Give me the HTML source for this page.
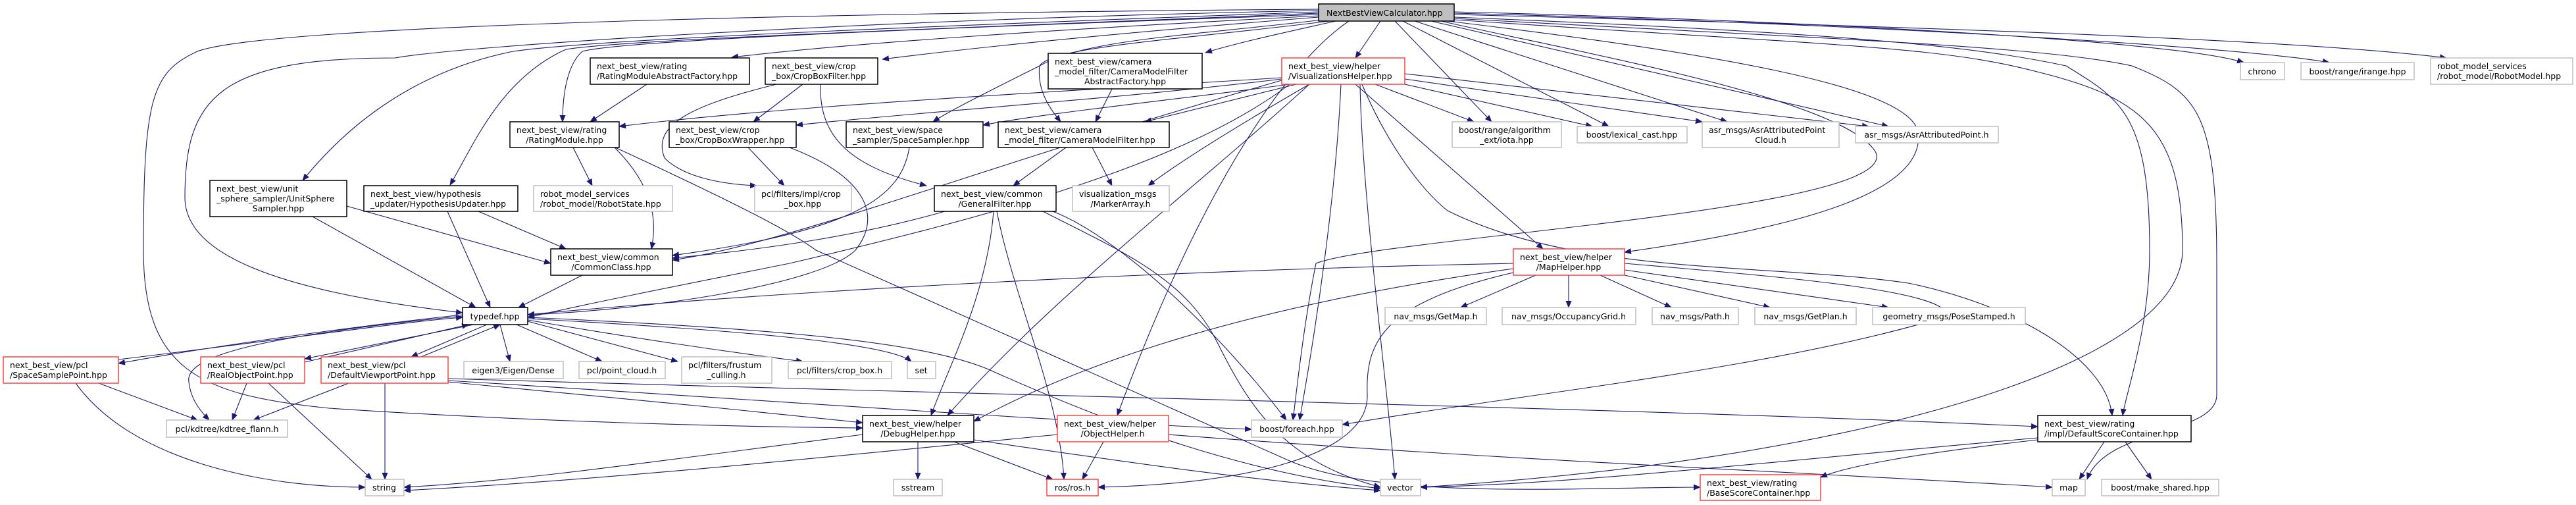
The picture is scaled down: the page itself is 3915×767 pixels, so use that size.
<!DOCTYPE html>
<html><head><meta charset="utf-8"><style>
html,body{margin:0;padding:0;background:#fff;}
svg{display:block;}
text{font-family:"DejaVu Sans","Liberation Sans",sans-serif;font-size:12.5px;fill:#000;}
.e{fill:none;stroke:#191970;stroke-width:1.1;marker-end:url(#a);}
.b{fill:#fff;stroke:#000;stroke-width:1.5;}
.g{fill:#fff;stroke:#bfbfbf;stroke-width:1.5;}
.r{fill:#fff;stroke:#ff4040;stroke-width:1.5;}
</style></head><body>
<svg width="3915" height="767" viewBox="0 0 3915 767" xmlns="http://www.w3.org/2000/svg">
<defs><marker id="a" markerUnits="userSpaceOnUse" markerWidth="11" markerHeight="9" refX="10" refY="4.5" orient="auto"><path d="M0,0 L11,4.5 L0,9 z" fill="#191970"/></marker></defs>
<g>
<!-- NBVC edges -->
<path class="e" d="M2004,14 C1200,20 400,40 300,78 C230,110 218,150 218,380 C218,560 300,600 500,620 C800,640 1100,648 1311,650"/>
<path class="e" d="M2004,16 C1300,30 700,70 600,88 C330,88 281,150 281,300 C281,380 400,440 703,475"/>
<path class="e" d="M2004,18 C1400,40 900,60 780,78 C620,110 520,200 460,274"/>
<path class="e" d="M2004,20 C1400,45 950,60 860,75 C760,120 720,220 684,281"/>
<path class="e" d="M2004,22 C1500,40 950,60 885,78 C860,100 855,150 855,185"/>
<path class="e" d="M2004,24 C1600,45 1300,65 1112,87"/>
<path class="e" d="M2004,26 C1700,50 1500,70 1341,90"/>
<path class="e" d="M2030,32 C1950,50 1880,65 1832,80"/>
<path class="e" d="M2010,30 C1800,55 1650,60 1580,100 C1500,140 1440,170 1418,185"/>
<path class="e" d="M2020,32 C1800,60 1600,70 1580,100 C1575,140 1600,170 1612,185"/>
<path class="e" d="M2098,32 L2060,88"/>
<path class="e" d="M2120,32 L2267,185"/>
<path class="e" d="M2132,32 L2445,192"/>
<path class="e" d="M2150,32 L2625,185"/>
<path class="e" d="M2175,32 L2870,192"/>
<path class="e" d="M2210,18 C2700,30 3300,60 3410,95"/>
<path class="e" d="M2210,20 C2800,35 3400,70 3540,95"/>
<path class="e" d="M2210,22 C2900,40 3500,60 3718,88"/>
<path class="e" d="M2210,26 C2800,50 3000,70 3140,100 C3220,150 3267,170 3267,380 C3267,500 3230,600 3226,631"/>
<path class="e" d="M2210,28 C2800,60 3100,70 3240,100 C3340,140 3369,170 3369,400 L3369,600 C3369,660 3200,650 3172,728"/>
<path class="e" d="M2210,30 C2800,70 2950,70 3100,110 C3260,150 3317,200 3317,380 C3317,560 2800,700 2159,740"/>
<path class="e" d="M2200,32 C2600,80 2900,130 2915,200 C2930,300 2700,350 2469,383"/>
<path class="e" d="M2190,32 C2400,80 2800,150 2850,230 C2900,320 2100,360 2000,400 C1980,500 1970,600 1965,638"/>
<path class="e" d="M2050,32 C1950,100 1820,300 1698,631"/>
<!-- internal -->
<path class="e" d="M983,128 L897,185"/>
<path class="e" d="M1220,128 L1145,185"/>
<path class="e" d="M1180,128 C1050,160 990,190 1010,240 C1040,270 1100,280 1150,282"/>
<path class="e" d="M1247,128 C1245,200 1280,250 1408,282"/>
<path class="e" d="M1690,135 L1665,185"/>
<path class="e" d="M1620,224 L1540,282"/>
<path class="e" d="M1660,224 L1690,282"/>
<path class="e" d="M1137,224 L1192,282"/>
<path class="e" d="M1200,224 C1320,270 1340,330 1300,380 C1250,430 1000,470 802,478"/>
<path class="e" d="M1382,224 C1370,300 1300,350 1022,388"/>
<path class="e" d="M934,224 C990,280 1000,330 990,378"/>
<path class="e" d="M871,224 L900,282"/>
<path class="e" d="M935,224 C1100,300 1200,350 1240,380 L1960,700 C2100,760 2400,740 2584,740"/>
<path class="e" d="M527,313 L837,400"/>
<path class="e" d="M475,329 L723,467"/>
<path class="e" d="M727,321 L860,378"/>
<path class="e" d="M680,321 L745,467"/>
<path class="e" d="M885,418 L788,467"/>
<path class="e" d="M1436,321 C1300,360 1150,380 1022,392"/>
<path class="e" d="M1510,321 C1500,450 1440,560 1415,631"/>
<path class="e" d="M1515,321 C1540,450 1610,600 1617,728"/>
<path class="e" d="M1585,321 C1700,380 1800,420 1850,520 C1900,620 1950,700 2098,740"/>
<path class="e" d="M1600,321 C1700,360 1850,500 1955,638"/>
<path class="e" d="M1948,118 C1600,140 1200,160 941,192"/>
<path class="e" d="M1948,120 C1700,150 1400,170 1210,190"/>
<path class="e" d="M1960,128 C1800,150 1600,170 1494,190"/>
<path class="e" d="M1970,128 L1740,185"/>
<path class="e" d="M1990,128 C1900,180 1800,240 1745,282"/>
<path class="e" d="M2090,128 L2240,185"/>
<path class="e" d="M2135,128 L2420,192"/>
<path class="e" d="M2135,120 L2587,185"/>
<path class="e" d="M2135,112 L2840,192"/>
<path class="e" d="M2060,128 L2345,378"/>
<path class="e" d="M1960,128 C1800,250 1500,330 1200,400 C1000,440 900,460 802,482"/>
<path class="e" d="M1990,128 C1800,300 1600,450 1440,631"/>
<path class="e" d="M2067,128 C2070,300 2110,600 2120,728"/>
<path class="e" d="M2070,128 C2100,200 2150,280 2200,320 C2400,420 2700,400 2900,430 C3050,460 3200,540 3210,631"/>
<path class="e" d="M2038,128 C2030,300 2000,500 1975,638"/>
<path class="e" d="M1948,122 C1500,250 1200,370 1022,395"/>
<path class="e" d="M2300,400 C1800,410 1200,440 802,478"/>
<path class="e" d="M2334,418 L2220,467"/>
<path class="e" d="M2384,418 L2384,467"/>
<path class="e" d="M2432,418 L2540,467"/>
<path class="e" d="M2469,418 L2690,467"/>
<path class="e" d="M2469,410 L2870,467"/>
<path class="e" d="M2300,408 C2000,450 1700,520 1480,640"/>
<path class="e" d="M2469,400 C2700,420 2960,440 2960,480 C2700,560 2300,600 2040,645"/>
<path class="e" d="M2300,414 C2100,460 2075,520 2078,600 C2080,690 1900,735 1669,740"/>
<path class="e" d="M703,478 C500,500 300,530 180,552"/>
<path class="e" d="M180,546 C400,520 600,490 703,482"/>
<path class="e" d="M720,493 L463,545"/>
<path class="e" d="M463,550 L712,493"/>
<path class="e" d="M740,493 L625,542"/>
<path class="e" d="M640,542 L760,493"/>
<path class="e" d="M760,493 L775,549"/>
<path class="e" d="M785,493 L915,549"/>
<path class="e" d="M802,488 L1030,549"/>
<path class="e" d="M802,486 C1000,520 1150,540 1220,549"/>
<path class="e" d="M802,484 C1100,500 1350,520 1385,549"/>
<path class="e" d="M802,482 C1200,500 1400,520 1500,560 C1700,650 1900,720 2098,742"/>
<path class="e" d="M703,480 C400,510 280,540 287,580 C290,610 310,630 318,638"/>
<path class="e" d="M150,582 L300,638"/>
<path class="e" d="M115,582 C200,700 400,740 555,740"/>
<path class="e" d="M375,582 L353,638"/>
<path class="e" d="M408,582 L565,728"/>
<path class="e" d="M530,582 L385,638"/>
<path class="e" d="M585,582 L585,728"/>
<path class="e" d="M681,575 C1500,600 2500,620 3097,648"/>
<path class="e" d="M681,578 C1200,610 1600,640 1902,652"/>
<path class="e" d="M681,580 C900,600 1100,620 1311,642"/>
<path class="e" d="M1395,671 L1395,728"/>
<path class="e" d="M1450,671 L1600,728"/>
<path class="e" d="M1311,660 C1000,700 800,730 614,740"/>
<path class="e" d="M1480,668 C1700,700 1900,730 2098,745"/>
<path class="e" d="M1607,660 C1200,700 900,730 614,745"/>
<path class="e" d="M1677,671 L1645,728"/>
<path class="e" d="M1776,660 C2300,700 2800,720 3119,740"/>
<path class="e" d="M3097,668 C2900,690 2800,710 2767,725"/>
<path class="e" d="M3198,671 L3160,728"/>
<path class="e" d="M3230,671 L3270,728"/>
<path class="e" d="M3097,665 C2700,700 2400,735 2159,740"/>
</g>
<g>
<rect x="2004" y="6" width="206" height="26" fill="#bfbfbf" stroke="#000" stroke-width="1.5"/><text x="2016" y="24">NextBestViewCalculator.hpp</text>
<rect class="b" x="897" y="88" width="242" height="40"/><text x="907" y="105">next_best_view/rating</text><text x="907" y="120">/RatingModuleAbstractFactory.hpp</text>
<rect class="b" x="1163" y="88" width="171" height="40"/><text x="1173" y="105">next_best_view/crop</text><text x="1173" y="120">_box/CropBoxFilter.hpp</text>
<rect class="b" x="1593" y="81" width="234" height="54"/><text x="1603" y="98">next_best_view/camera</text><text x="1603" y="113">_model_filter/CameraModelFilter</text><text x="1710" y="128" text-anchor="middle">AbstractFactory.hpp</text>
<rect class="r" x="1948" y="88" width="187" height="40"/><text x="1958" y="105">next_best_view/helper</text><text x="1958" y="120">/VisualizationsHelper.hpp</text>
<rect class="g" x="3405" y="95" width="67" height="26"/><text x="3438" y="113" text-anchor="middle">chrono</text>
<rect class="g" x="3497" y="95" width="172" height="26"/><text x="3583" y="113" text-anchor="middle">boost/range/irange.hpp</text>
<rect class="g" x="3694" y="88" width="216" height="40"/><text x="3704" y="105">robot_model_services</text><text x="3704" y="120">/robot_model/RobotModel.hpp</text>
<rect class="b" x="775" y="185" width="166" height="39"/><text x="785" y="202">next_best_view/rating</text><text x="858" y="217" text-anchor="middle">/RatingModule.hpp</text>
<rect class="b" x="1017" y="185" width="193" height="39"/><text x="1027" y="202">next_best_view/crop</text><text x="1027" y="217">_box/CropBoxWrapper.hpp</text>
<rect class="b" x="1286" y="185" width="208" height="39"/><text x="1296" y="202">next_best_view/space</text><text x="1296" y="217">_sampler/SpaceSampler.hpp</text>
<rect class="b" x="1517" y="185" width="260" height="39"/><text x="1527" y="202">next_best_view/camera</text><text x="1527" y="217">_model_filter/CameraModelFilter.hpp</text>
<rect class="g" x="2207" y="185" width="166" height="39"/><text x="2217" y="202">boost/range/algorithm</text><text x="2290" y="217" text-anchor="middle">_ext/iota.hpp</text>
<rect class="g" x="2397" y="192" width="167" height="25"/><text x="2480" y="209" text-anchor="middle">boost/lexical_cast.hpp</text>
<rect class="g" x="2587" y="185" width="208" height="39"/><text x="2597" y="202">asr_msgs/AsrAttributedPoint</text><text x="2691" y="217" text-anchor="middle">Cloud.h</text>
<rect class="g" x="2820" y="192" width="217" height="25"/><text x="2928" y="209" text-anchor="middle">asr_msgs/AsrAttributedPoint.h</text>
<rect class="b" x="319" y="274" width="208" height="55"/><text x="329" y="291">next_best_view/unit</text><text x="329" y="306">_sphere_sampler/UnitSphere</text><text x="423" y="321" text-anchor="middle">Sampler.hpp</text>
<rect class="b" x="553" y="282" width="234" height="39"/><text x="563" y="299">next_best_view/hypothesis</text><text x="563" y="314">_updater/HypothesisUpdater.hpp</text>
<rect class="g" x="811" y="282" width="211" height="39"/><text x="821" y="299">robot_model_services</text><text x="821" y="314">/robot_model/RobotState.hpp</text>
<rect class="g" x="1147" y="282" width="147" height="39"/><text x="1157" y="299">pcl/filters/impl/crop</text><text x="1220" y="314" text-anchor="middle">_box.hpp</text>
<rect class="b" x="1420" y="282" width="185" height="39"/><text x="1430" y="299">next_best_view/common</text><text x="1512" y="314" text-anchor="middle">/GeneralFilter.hpp</text>
<rect class="g" x="1630" y="282" width="147" height="39"/><text x="1640" y="299">visualization_msgs</text><text x="1703" y="314" text-anchor="middle">/MarkerArray.h</text>
<rect class="b" x="837" y="378" width="185" height="40"/><text x="847" y="395">next_best_view/common</text><text x="929" y="410" text-anchor="middle">/CommonClass.hpp</text>
<rect class="r" x="2300" y="378" width="169" height="40"/><text x="2310" y="395">next_best_view/helper</text><text x="2384" y="410" text-anchor="middle">/MapHelper.hpp</text>
<rect class="b" x="703" y="467" width="99" height="26"/><text x="752" y="485" text-anchor="middle">typedef.hpp</text>
<rect class="g" x="2105" y="467" width="154" height="26"/><text x="2182" y="485" text-anchor="middle">nav_msgs/GetMap.h</text>
<rect class="g" x="2283" y="467" width="203" height="26"/><text x="2384" y="485" text-anchor="middle">nav_msgs/OccupancyGrid.h</text>
<rect class="g" x="2511" y="467" width="131" height="26"/><text x="2576" y="485" text-anchor="middle">nav_msgs/Path.h</text>
<rect class="g" x="2667" y="467" width="154" height="26"/><text x="2744" y="485" text-anchor="middle">nav_msgs/GetPlan.h</text>
<rect class="g" x="2846" y="467" width="232" height="26"/><text x="2962" y="485" text-anchor="middle">geometry_msgs/PoseStamped.h</text>
<rect class="r" x="5" y="542" width="175" height="40"/><text x="15" y="559">next_best_view/pcl</text><text x="15" y="574">/SpaceSamplePoint.hpp</text>
<rect class="r" x="305" y="542" width="158" height="40"/><text x="315" y="559">next_best_view/pcl</text><text x="315" y="574">/RealObjectPoint.hpp</text>
<rect class="r" x="488" y="542" width="193" height="40"/><text x="498" y="559">next_best_view/pcl</text><text x="498" y="574">/DefaultViewportPoint.hpp</text>
<rect class="g" x="705" y="549" width="151" height="26"/><text x="780" y="567" text-anchor="middle">eigen3/Eigen/Dense</text>
<rect class="g" x="880" y="549" width="131" height="26"/><text x="945" y="567" text-anchor="middle">pcl/point_cloud.h</text>
<rect class="g" x="1036" y="542" width="137" height="40"/><text x="1046" y="559">pcl/filters/frustum</text><text x="1104" y="574" text-anchor="middle">_culling.h</text>
<rect class="g" x="1198" y="549" width="157" height="26"/><text x="1276" y="567" text-anchor="middle">pcl/filters/crop_box.h</text>
<rect class="g" x="1379" y="549" width="43" height="26"/><text x="1400" y="567" text-anchor="middle">set</text>
<rect class="b" x="1311" y="631" width="169" height="40"/><text x="1321" y="648">next_best_view/helper</text><text x="1395" y="663" text-anchor="middle">/DebugHelper.hpp</text>
<rect class="r" x="1607" y="631" width="169" height="40"/><text x="1617" y="648">next_best_view/helper</text><text x="1691" y="663" text-anchor="middle">/ObjectHelper.h</text>
<rect class="b" x="3097" y="631" width="233" height="40"/><text x="3107" y="648">next_best_view/rating</text><text x="3107" y="663">/impl/DefaultScoreContainer.hpp</text>
<rect class="g" x="253" y="638" width="184" height="26"/><text x="345" y="656" text-anchor="middle">pcl/kdtree/kdtree_flann.h</text>
<rect class="g" x="1902" y="638" width="138" height="26"/><text x="1971" y="656" text-anchor="middle">boost/foreach.hpp</text>
<rect class="g" x="555" y="728" width="59" height="25"/><text x="584" y="745" text-anchor="middle">string</text>
<rect class="g" x="1358" y="728" width="74" height="25"/><text x="1395" y="745" text-anchor="middle">sstream</text>
<rect class="r" x="1591" y="728" width="78" height="25"/><text x="1630" y="745" text-anchor="middle">ros/ros.h</text>
<rect class="g" x="2098" y="728" width="61" height="25"/><text x="2128" y="745" text-anchor="middle">vector</text>
<rect class="r" x="2584" y="721" width="183" height="39"/><text x="2594" y="738">next_best_view/rating</text><text x="2594" y="753">/BaseScoreContainer.hpp</text>
<rect class="g" x="3119" y="728" width="50" height="25"/><text x="3144" y="745" text-anchor="middle">map</text>
<rect class="g" x="3194" y="728" width="178" height="25"/><text x="3283" y="745" text-anchor="middle">boost/make_shared.hpp</text>
</g>
</svg>
</body></html>
